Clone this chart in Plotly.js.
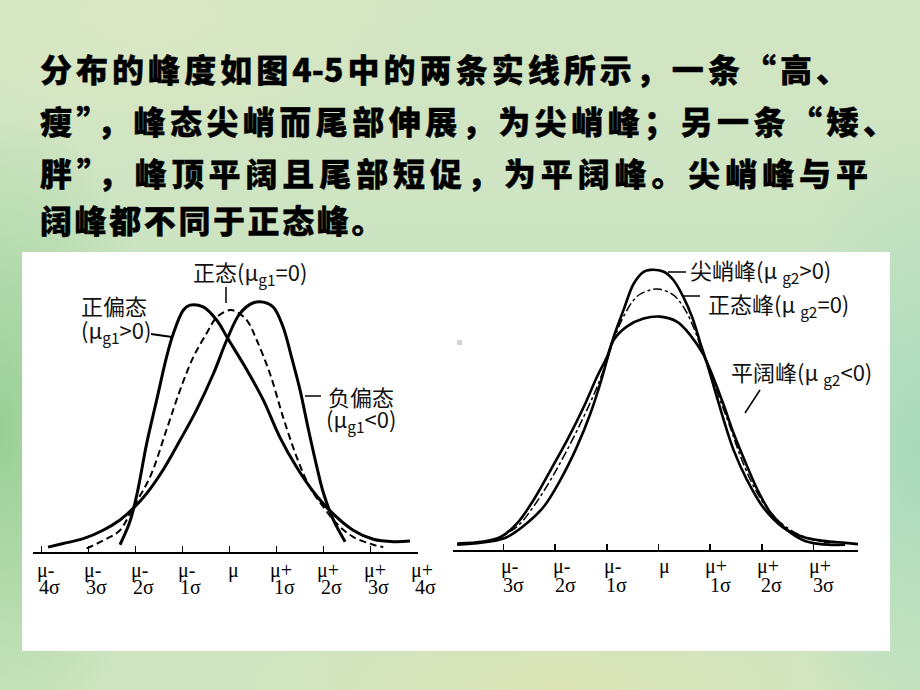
<!DOCTYPE html>
<html>
<head>
<meta charset="utf-8">
<script src="https://cdn.plot.ly/plotly-3.0.1.min.js"></script>
<style>
html,body{margin:0;padding:0;}
body{width:920px;height:690px;overflow:hidden;position:relative;
background:
 radial-gradient(ellipse 170px 320px at 0px 430px, rgba(135,200,135,0.75), rgba(135,200,135,0)),
 radial-gradient(ellipse 150px 320px at 920px 450px, rgba(150,212,185,0.65), rgba(150,212,185,0)),
 radial-gradient(ellipse 320px 110px at 560px 690px, rgba(228,226,172,0.6), rgba(228,226,172,0)),
 radial-gradient(ellipse 300px 150px at 150px 20px, rgba(222,232,196,0.7), rgba(222,232,196,0)),
 linear-gradient(180deg, #d2e5c2 0%, #cbe4c3 50%, #cfe5c1 100%);}
#chart{position:absolute;left:0;top:0;width:920px;height:690px;}
.line{position:absolute;left:40px;height:44px;line-height:44px;white-space:nowrap;
 font-family:"Noto Sans CJK SC","Noto Sans",sans-serif;font-weight:900;font-size:32px;color:#000;
 -webkit-text-stroke:0.4px #000;}
.just{text-align:justify;text-align-last:justify;}
</style>
</head>
<body>
<div id="chart"></div>
<div class="line just" style="top:46px;width:808px;">分布的峰度如图4-5中的两条实线所示，一条“高、</div>
<div class="line just" style="top:98px;width:855px;">瘦”，峰态尖峭而尾部伸展，为尖峭峰；另一条“矮、</div>
<div class="line just" style="top:150px;width:828px;">胖”，峰顶平阔且尾部短促，为平阔峰。尖峭峰与平</div>
<div class="line" style="top:197px;letter-spacing:2.6px;">阔峰都不同于正态峰。</div>
<script>
// ---- Left chart data (x in sigma units from mu, y relative density) ----
const posSkewX = [-2.33,-2.12,-1.97,-1.76,-1.55,-1.34,-1.20,-0.98,-0.84,-0.56,-0.27,-0.03,0.37,0.72,1.07,1.43,1.78,2.14,2.63,3.06,3.49,3.84];
const posSkewY = [0.012,0.050,0.095,0.180,0.251,0.322,0.360,0.400,0.408,0.405,0.383,0.352,0.301,0.251,0.190,0.140,0.100,0.068,0.036,0.021,0.017,0.018];
const negSkewX = [-3.86,-3.54,-3.11,-2.69,-2.33,-2.05,-1.76,-1.41,-1.05,-0.70,-0.34,-0.06,0.22,0.51,0.72,0.93,1.14,1.32,1.50,1.68,1.86,2.00,2.21,2.46];
const negSkewY = [0.008,0.014,0.022,0.036,0.053,0.072,0.097,0.136,0.185,0.235,0.295,0.350,0.394,0.412,0.413,0.405,0.372,0.322,0.268,0.202,0.140,0.097,0.053,0.017];
const normLX = [-3.04,-2.61,-2.33,-2.05,-1.69,-1.34,-1.05,-0.77,-0.49,-0.27,0.01,0.15,0.37,0.58,0.86,1.14,1.43,1.71,2.00,2.28,2.63,3.06,3.27];
const normLY = [0.006,0.022,0.036,0.074,0.124,0.202,0.268,0.322,0.361,0.388,0.400,0.397,0.383,0.350,0.295,0.223,0.157,0.107,0.074,0.047,0.025,0.012,0.008];

// ---- Right chart data ----
const leptoX = [-3.90,-3.26,-2.93,-2.55,-2.22,-1.90,-1.58,-1.32,-1.13,-1.00,-0.87,-0.68,-0.48,-0.29,-0.16,0.10,0.29,0.48,0.65,0.81,0.94,1.10,1.26,1.45,1.71,2.03,2.42,2.80,3.19,3.61,3.86];
const leptoY = [0.008,0.013,0.020,0.041,0.067,0.108,0.159,0.210,0.256,0.292,0.328,0.369,0.410,0.428,0.431,0.428,0.415,0.389,0.358,0.318,0.286,0.243,0.200,0.154,0.108,0.065,0.034,0.020,0.014,0.011,0.009];
const normRX = [-3.19,-2.74,-2.42,-2.09,-1.77,-1.45,-1.19,-1.00,-0.87,-0.68,-0.42,-0.16,0.03,0.29,0.48,0.68,0.87,1.00,1.19,1.39,1.58,1.84,2.16,2.55,2.94,3.32];
const normRY = [0.015,0.036,0.067,0.108,0.154,0.205,0.251,0.292,0.323,0.359,0.390,0.400,0.401,0.392,0.374,0.342,0.300,0.274,0.231,0.188,0.145,0.098,0.058,0.031,0.017,0.011];
const platyX = [-3.90,-3.39,-3.06,-2.74,-2.42,-2.09,-1.77,-1.45,-1.19,-1.00,-0.87,-0.61,-0.29,0.03,0.36,0.61,0.87,1.06,1.26,1.45,1.68,1.90,2.16,2.48,2.80,3.13,3.61];
const platyY = [0.010,0.013,0.020,0.041,0.077,0.123,0.169,0.220,0.267,0.297,0.323,0.344,0.356,0.359,0.351,0.331,0.300,0.265,0.223,0.180,0.135,0.095,0.058,0.031,0.015,0.009,0.008];

// ---- Tick labels ----
const leftTicks = [-4,-3,-2,-1,0,1,2,3,4];
const leftTop = ["μ-","μ-","μ-","μ-","μ","μ+","μ+","μ+","μ+"];
const leftBottom = ["4σ","3σ","2σ","1σ","","1σ","2σ","3σ","4σ"];
const rightTicks = [-3,-2,-1,0,1,2,3];
const rightTop = ["μ-","μ-","μ-","μ","μ+","μ+","μ+"];
const rightBottom = ["3σ","2σ","1σ","","1σ","2σ","3σ"];

// ---- Curve labels ----
const leftLabels = ["正态(μ<sub>g1</sub>=0)","正偏态","(μ<sub>g1</sub>&gt;0)","负偏态","(μ<sub>g1</sub>&lt;0)"];
const rightLabels = ["尖峭峰(μ <sub>g2</sub>&gt;0)","正态峰(μ <sub>g2</sub>=0)","平阔峰(μ <sub>g2</sub>&lt;0)"];

const W = 920, H = 690;
const px = v => v / W;
const py = v => 1 - v / H;

const serif = "Liberation Serif, DejaVu Serif, serif";
const cjk = "Noto Sans CJK SC, Noto Sans, sans-serif";

const traces = [
  {x: posSkewX, y: posSkewY, xaxis:'x', yaxis:'y', mode:'lines', line:{color:'#000', width:3, shape:'spline', smoothing:1}, hoverinfo:'skip'},
  {x: negSkewX, y: negSkewY, xaxis:'x', yaxis:'y', mode:'lines', line:{color:'#000', width:3, shape:'spline', smoothing:1}, hoverinfo:'skip'},
  {x: normLX, y: normLY, xaxis:'x', yaxis:'y', mode:'lines', line:{color:'#000', width:2, dash:'7px,4px', shape:'spline', smoothing:1}, hoverinfo:'skip'},
  {x: platyX, y: platyY, xaxis:'x2', yaxis:'y2', mode:'lines', line:{color:'#000', width:2.6, shape:'spline', smoothing:1}, hoverinfo:'skip'},
  {x: normRX, y: normRY, xaxis:'x2', yaxis:'y2', mode:'lines', line:{color:'#000', width:1.5, dash:'dashdot', shape:'spline', smoothing:1}, hoverinfo:'skip'},
  {x: leptoX, y: leptoY, xaxis:'x2', yaxis:'y2', mode:'lines', line:{color:'#000', width:2.6, shape:'spline', smoothing:1}, hoverinfo:'skip'}
];

const annotations = [];
const tickFont = {family:serif, size:20, color:'#000'};
leftTicks.forEach((t,i) => {
  annotations.push({xref:'x', yref:'paper', x:t, y:py(570), text:leftTop[i], showarrow:false, xshift:4, yanchor:'middle', font:tickFont});
  if (leftBottom[i]) annotations.push({xref:'x', yref:'paper', x:t, y:py(587), text:leftBottom[i], showarrow:false, xshift:8, yanchor:'middle', font:tickFont});
});
rightTicks.forEach((t,i) => {
  annotations.push({xref:'x2', yref:'paper', x:t, y:py(566), text:rightTop[i], showarrow:false, xshift:6, yanchor:'middle', font:tickFont});
  if (rightBottom[i]) annotations.push({xref:'x2', yref:'paper', x:t, y:py(585), text:rightBottom[i], showarrow:false, xshift:10, yanchor:'middle', font:tickFont});
});
const lab = (text, x, y, s) => ({xref:'paper', yref:'paper', x:px(x), y:py(y), text:text, showarrow:false,
  xanchor:'left', yanchor:'middle', font:{family:cjk, size:s||22, color:'#111'}});
annotations.push(lab(leftLabels[0], 191, 272));
annotations.push(lab(leftLabels[1], 79, 305));
annotations.push(lab(leftLabels[2], 79, 330));
annotations.push(lab(leftLabels[3], 326, 396));
annotations.push(lab(leftLabels[4], 324, 419));
annotations.push(lab(rightLabels[0], 688, 270));
annotations.push(lab(rightLabels[1], 706, 304));
annotations.push(lab(rightLabels[2], 729, 372));

const seg = (x0,y0,x1,y1,w) => ({type:'line', xref:'paper', yref:'paper', x0:px(x0), y0:py(y0), x1:px(x1), y1:py(y1),
  line:{color:'#000', width:w||1.5}});
const shapes = [
  {type:'rect', xref:'paper', yref:'paper', x0:px(22), x1:px(890), y0:py(651), y1:py(252), fillcolor:'#ffffff', line:{width:0}, layer:'below'},
  {type:'rect', xref:'paper', yref:'paper', x0:px(457), x1:px(462), y0:py(345), y1:py(340), fillcolor:'#d4d4d4', line:{width:0}, layer:'below'},
  seg(226,287,226,303),
  seg(151,334,172,337,2),
  seg(305,396,321,396),
  seg(668,272,686,272),
  seg(683,296,700,296),
  seg(760,390,745,413)
];

const axisCommon = {showgrid:false, zeroline:false, showline:true, linecolor:'#000', linewidth:1.6,
  ticks:'inside', ticklen:6, tickwidth:1.6, tickcolor:'#000', showticklabels:false, fixedrange:true};
const yCommon = {visible:false, showgrid:false, zeroline:false, fixedrange:true};

const layout = {
  width:W, height:H, margin:{l:0,r:0,t:0,b:0},
  paper_bgcolor:'rgba(0,0,0,0)', plot_bgcolor:'rgba(0,0,0,0)',
  showlegend:false,
  xaxis: Object.assign({}, axisCommon, {domain:[px(33), px(418)], range:[-4.18, 4.01], tickvals:leftTicks, anchor:'y'}),
  yaxis: Object.assign({}, yCommon, {domain:[py(552), py(255)], range:[0, 297/605], anchor:'x'}),
  xaxis2: Object.assign({}, axisCommon, {domain:[px(453), px(858)], range:[-3.98, 3.86], tickvals:rightTicks, anchor:'y2'}),
  yaxis2: Object.assign({}, yCommon, {domain:[py(550), py(255)], range:[0, 295/650], anchor:'x2'}),
  annotations: annotations,
  shapes: shapes
};

Plotly.newPlot('chart', traces, layout, {displayModeBar:false, staticPlot:true});
</script>
</body>
</html>
